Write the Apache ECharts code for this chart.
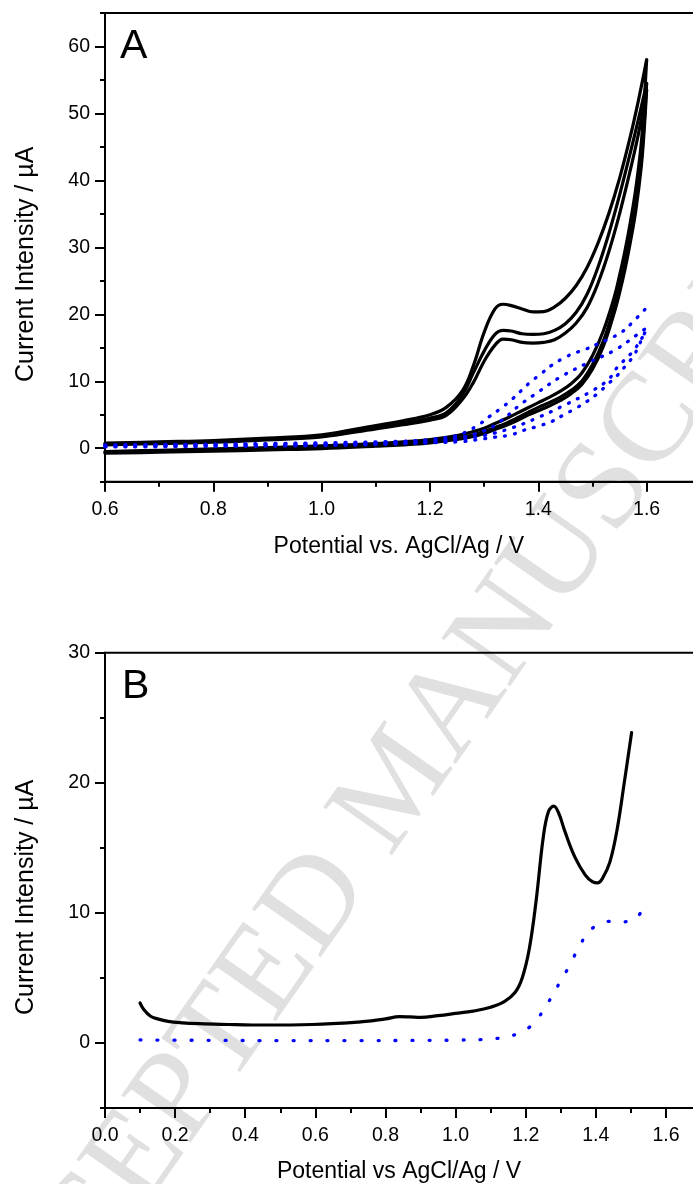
<!DOCTYPE html>
<html>
<head>
<meta charset="utf-8">
<script src="https://cdn.jsdelivr.net/npm/echarts@6/dist/echarts.min.js"></script>
<style>
html,body{margin:0;padding:0;background:#fff;overflow:hidden;width:693px;height:1184px;}
#chart{width:701px;height:1184px;}
</style>
</head>
<body>
<div id="chart"></div>
<script>
// ---------- Panel A : CV, 3 cycles (black) ----------
const potA_fwd = [0.6, 0.7, 0.8, 0.9, 1.0, 1.1, 1.15, 1.2, 1.23, 1.26, 1.28, 1.3, 1.32, 1.335, 1.35, 1.37, 1.39, 1.41, 1.43, 1.45, 1.47, 1.49, 1.51, 1.53, 1.55, 1.57, 1.585, 1.6];
const cyc1_fwd = [0.75, 0.95, 1.15, 1.5, 2.0, 3.4, 4.1, 5.0, 6.1, 8.6, 12.3, 17.3, 20.8, 21.5, 21.3, 20.8, 20.35, 20.4, 21.1, 22.4, 24.3, 27.0, 30.6, 35.0, 40.3, 46.6, 52.0, 58.0];
const cyc2_fwd = [0.6, 0.8, 1.0, 1.35, 1.8, 3.1, 3.7, 4.5, 5.3, 8.0, 11.25, 14.5, 17.0, 17.6, 17.5, 17.1, 17.0, 17.1, 17.6, 18.6, 20.3, 23.0, 27.0, 32.0, 37.8, 44.2, 49.2, 54.5];
const cyc3_fwd = [0.5, 0.7, 0.9, 1.25, 1.7, 2.9, 3.5, 4.2, 4.9, 7.3, 9.8, 13.0, 15.4, 16.3, 16.2, 15.8, 15.7, 15.8, 16.2, 17.2, 18.7, 21.0, 24.6, 29.3, 35.0, 41.6, 47.0, 53.5];

const potA_rev = [1.6, 1.595, 1.59, 1.58, 1.57, 1.56, 1.55, 1.54, 1.52, 1.5, 1.48, 1.46, 1.44, 1.42, 1.4, 1.38, 1.36, 1.34, 1.32, 1.3, 1.28, 1.25, 1.2, 1.15, 1.1, 1.0, 0.9, 0.8, 0.7, 0.6];
const cyc1_rev = [58, 51, 45.5, 38.8, 33.8, 29.5, 25.8, 22.5, 17.5, 13.8, 11.2, 9.6, 8.5, 7.6, 6.8, 6.0, 5.2, 4.4, 3.7, 3.0, 2.5, 1.9, 1.3, 0.95, 0.7, 0.35, 0.1, -0.1, -0.3, -0.5];
const cyc2_rev = [54.5, 48, 43, 36.5, 31.8, 27.7, 24.2, 21.1, 16.0, 12.5, 10.0, 8.6, 7.6, 6.8, 6.1, 5.3, 4.5, 3.7, 3.1, 2.5, 2.0, 1.5, 1.0, 0.7, 0.5, 0.15, -0.05, -0.25, -0.45, -0.6];
const cyc3_rev = [53.5, 47, 42, 35.5, 30.8, 26.7, 23.2, 20.2, 15.2, 11.8, 9.5, 8.1, 7.1, 6.3, 5.6, 4.9, 4.1, 3.4, 2.8, 2.2, 1.75, 1.3, 0.8, 0.5, 0.3, -0.05, -0.25, -0.45, -0.6, -0.75];

// ---------- Panel A : blank (blue dotted) ----------
const blankA_E1 = [0.6, 0.7, 0.8, 0.9, 1.0, 1.1, 1.15, 1.2, 1.25, 1.27, 1.29, 1.31, 1.33, 1.35, 1.385, 1.405, 1.425, 1.45, 1.47, 1.485, 1.51, 1.53, 1.555, 1.575, 1.6];
const blankA_I1 = [0.5, 0.55, 0.6, 0.7, 0.8, 0.95, 1.05, 1.3, 1.9, 2.6, 3.5, 4.75, 5.9, 7.2, 9.85, 11.1, 12.4, 13.6, 14.3, 14.7, 15.6, 16.3, 17.4, 18.9, 21.0];
const blankA_E2 = [0.6, 0.8, 1.0, 1.1, 1.2, 1.25, 1.3, 1.33, 1.365, 1.4, 1.44, 1.49, 1.54, 1.585, 1.6];
const blankA_I2 = [0.4, 0.5, 0.65, 0.8, 1.1, 1.5, 2.6, 4.0, 6.4, 8.4, 10.6, 12.7, 14.6, 17.1, 18.0];
const blankA_E3 = [0.6, 0.8, 1.0, 1.1, 1.2, 1.26, 1.29, 1.32, 1.35, 1.37, 1.4, 1.425, 1.445, 1.47, 1.49, 1.51, 1.53, 1.545, 1.56, 1.575, 1.585, 1.595, 1.6];
const blankA_I3 = [0.2, 0.25, 0.4, 0.55, 0.8, 1.0, 1.3, 1.65, 2.0, 2.6, 3.3, 4.0, 4.9, 6.0, 7.0, 8.2, 9.7, 10.8, 12.2, 13.7, 15.2, 17.0, 17.6];
const blankA_E4 = [0.6, 0.8, 1.0, 1.1, 1.2, 1.25, 1.3, 1.35, 1.4, 1.45, 1.5, 1.53, 1.545, 1.575, 1.59, 1.6];
const blankA_I4 = [0.3, 0.4, 0.55, 0.7, 0.95, 1.3, 1.9, 3.0, 4.6, 6.5, 8.6, 10.3, 12.0, 14.5, 16.3, 17.4];

// ---------- Panel B ----------
const potB_sample = [0.1, 0.11, 0.13, 0.15, 0.18, 0.22, 0.27, 0.35, 0.42, 0.5, 0.56, 0.62, 0.68, 0.72, 0.76, 0.8, 0.84, 0.87, 0.9, 0.95, 1.0, 1.05, 1.1, 1.14, 1.17, 1.19, 1.21, 1.23, 1.25, 1.265, 1.28, 1.295, 1.31, 1.34, 1.37, 1.39, 1.405, 1.42, 1.44, 1.46, 1.48, 1.502];
const curB_sample = [3.07, 2.6, 2.05, 1.85, 1.66, 1.55, 1.48, 1.42, 1.38, 1.38, 1.4, 1.45, 1.53, 1.6, 1.7, 1.85, 2.02, 2.0, 1.97, 2.1, 2.27, 2.45, 2.75, 3.2, 3.9, 5.0, 7.2, 11.0, 15.8, 17.8, 18.2, 17.6, 16.4, 14.3, 12.9, 12.4, 12.3, 12.7, 13.9, 16.3, 19.8, 23.85];
const potB_blank = [0.1, 0.3, 0.5, 0.7, 0.9, 1.0, 1.1, 1.15, 1.18, 1.21, 1.235, 1.26, 1.28, 1.3, 1.32, 1.335, 1.355, 1.375, 1.4, 1.43, 1.47, 1.51, 1.525, 1.545];
const curB_blank = [0.23, 0.2, 0.18, 0.18, 0.2, 0.22, 0.3, 0.5, 0.75, 1.2, 1.9, 2.95, 3.8, 4.8, 5.7, 6.5, 7.5, 8.4, 9.0, 9.35, 9.3, 9.5, 9.9, 10.65];

// ---------- ticks ----------
const ticksA_x = [0.6, 0.8, 1.0, 1.2, 1.4, 1.6];
const minorA_x = [0.7, 0.9, 1.1, 1.3, 1.5];
const ticksA_y = [0, 10, 20, 30, 40, 50, 60];
const minorA_y = [-5, 5, 15, 25, 35, 45, 55, 65];
const ticksB_x = [0.0, 0.2, 0.4, 0.6, 0.8, 1.0, 1.2, 1.4, 1.6];
const minorB_x = [0.1, 0.3, 0.5, 0.7, 0.9, 1.1, 1.3, 1.5];
const ticksB_y = [0, 10, 20, 30];
const minorB_y = [-5, 5, 15, 25];

const FONT = 'Liberation Sans';
const zip = (a, b) => a.map((v, i) => [v, b[i]]);

function xAxisMain(grid, min, max, ticks, name, gap) {
  return {
    type: 'value', gridIndex: grid, position: 'bottom', min: min, max: max, interval: 0.1,
    name: name, nameLocation: 'middle', nameGap: gap,
    nameTextStyle: { fontFamily: FONT, fontSize: 23, color: '#000', padding: [0, 8, 0, 0] },
    axisLine: { onZero: false, lineStyle: { color: '#000', width: 2 } },
    axisTick: { customValues: ticks, length: 10, inside: false, lineStyle: { color: '#000', width: 2 } },
    axisLabel: { customValues: ticks, margin: 18, fontFamily: FONT, fontSize: 19.5, color: '#000', formatter: v => Number(v).toFixed(1) },
    splitLine: { show: false }
  };
}
function xAxisMinor(grid, min, max, ticks) {
  return {
    type: 'value', gridIndex: grid, position: 'bottom', min: min, max: max, interval: 0.1,
    axisLine: { show: false, onZero: false },
    axisTick: { customValues: ticks, length: 5, lineStyle: { color: '#000', width: 2 } },
    axisLabel: { show: false }, splitLine: { show: false }
  };
}
function yAxisMain(grid, min, max, ticks, name) {
  return {
    type: 'value', gridIndex: grid, position: 'left', min: min, max: max, interval: 5,
    name: name, nameLocation: 'middle', nameGap: 66,
    nameTextStyle: { fontFamily: FONT, fontSize: 25, color: '#000', padding: [0, 34, 0, 0] },
    axisLine: { onZero: false, lineStyle: { color: '#000', width: 2 } },
    axisTick: { customValues: ticks, length: 10, lineStyle: { color: '#000', width: 2 } },
    axisLabel: { customValues: ticks, margin: 15, fontFamily: FONT, fontSize: 19.5, color: '#000' },
    splitLine: { show: false }
  };
}
function yAxisMinor(grid, min, max, ticks) {
  return {
    type: 'value', gridIndex: grid, position: 'left', min: min, max: max, interval: 5,
    axisLine: { show: false, onZero: false },
    axisTick: { customValues: ticks, length: 5, lineStyle: { color: '#000', width: 2 } },
    axisLabel: { show: false }, splitLine: { show: false }
  };
}

function solid(data, xi, yi) {
  return { type: 'line', xAxisIndex: xi, yAxisIndex: yi, data: data, showSymbol: false, symbol: 'none',
    smooth: 0.4, silent: true, z: 3, lineStyle: { color: '#000', width: 3.2, cap: 'round', join: 'round' } };
}
function dotted(data, xi, yi, gap) {
  return { type: 'line', xAxisIndex: xi, yAxisIndex: yi, data: data, showSymbol: false, symbol: 'none',
    smooth: 0.4, silent: true, z: 4, lineStyle: { color: '#0000ff', width: 3.3, cap: 'round', type: [1, gap] } };
}

const chart = echarts.init(document.getElementById('chart'), null, { renderer: 'canvas' });
chart.setOption({
  animation: false,
  backgroundColor: '#fff',
  grid: [
    { left: 105, top: 13, width: 595.8, height: 468.7, show: true, borderColor: '#000', borderWidth: 2, backgroundColor: 'transparent' },
    { left: 105, top: 652.7, width: 596, height: 456.6, show: true, borderColor: '#000', borderWidth: 2, backgroundColor: 'transparent' }
  ],
  xAxis: [
    xAxisMain(0, 0.6, 1.7, ticksA_x, 'Potential vs. AgCl/Ag / V', 53),
    xAxisMinor(0, 0.6, 1.7, minorA_x),
    xAxisMain(1, 0.0, 1.7, ticksB_x, 'Potential vs AgCl/Ag / V', 52),
    xAxisMinor(1, 0.0, 1.7, minorB_x)
  ],
  yAxis: [
    yAxisMain(0, -5, 65, ticksA_y, 'Current Intensity / µA'),
    yAxisMinor(0, -5, 65, minorA_y),
    yAxisMain(1, -5, 30, ticksB_y, 'Current Intensity / µA'),
    yAxisMinor(1, -5, 30, minorB_y)
  ],
  graphic: [
    { type: 'text', z: -10, x: 400, y: 785, rotation: 55 * Math.PI / 180,
      style: { text: 'ACCEPTED MANUSCRIPT', fill: '#e0e0e0', font: '128px "Liberation Serif"', align: 'center', verticalAlign: 'middle' } },
    { type: 'text', z: 10, x: 120, y: 47, style: { text: 'A', fill: '#000', font: '41px "Liberation Sans"', align: 'left', verticalAlign: 'middle' } },
    { type: 'text', z: 10, x: 122, y: 687, style: { text: 'B', fill: '#000', font: '41px "Liberation Sans"', align: 'left', verticalAlign: 'middle' } }
  ],
  series: [
    solid(zip(potA_fwd, cyc1_fwd), 0, 0),
    solid(zip(potA_fwd, cyc2_fwd), 0, 0),
    solid(zip(potA_fwd, cyc3_fwd), 0, 0),
    solid(zip(potA_rev, cyc1_rev), 0, 0),
    solid(zip(potA_rev, cyc2_rev), 0, 0),
    solid(zip(potA_rev, cyc3_rev), 0, 0),
    dotted(zip(blankA_E1, blankA_I1), 0, 0, 9),
    dotted(zip(blankA_E2, blankA_I2), 0, 0, 9),
    dotted(zip(blankA_E3, blankA_I3), 0, 0, 9),
    dotted(zip(blankA_E4, blankA_I4), 0, 0, 9),
    solid(zip(potB_sample, curB_sample), 2, 2),
    dotted(zip(potB_blank, curB_blank), 2, 2, 16)
  ]
});
</script>
</body>
</html>
